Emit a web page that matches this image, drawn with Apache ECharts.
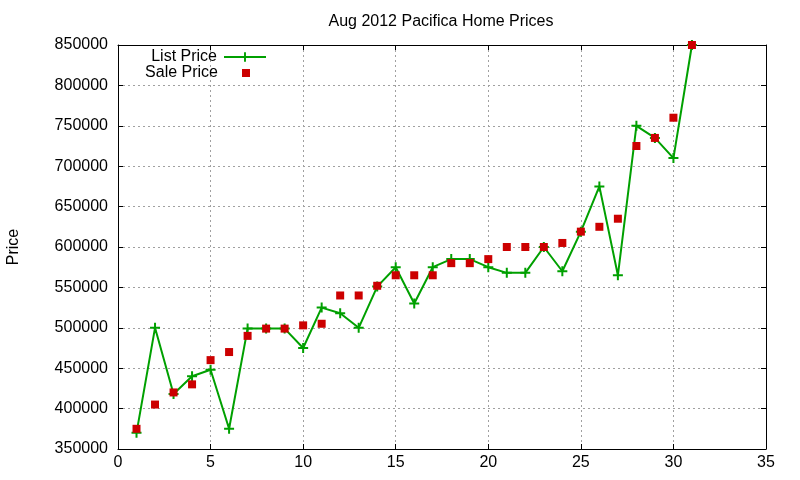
<!DOCTYPE html>
<html>
<head>
<meta charset="utf-8">
<script src="https://cdn.jsdelivr.net/npm/echarts@6/dist/echarts.min.js"></script>
<style>html,body{margin:0;padding:0;background:#fff;}#c{width:800px;height:480px;}</style>
</head>
<body>
<div id="c"></div>
<script>
const days = [1,2,3,4,5,6,7,8,9,10,11,12,13,14,15,16,17,18,19,20,21,22,23,24,25,26,27,28,29,30,31];
const listPrice = [370000,500000,418000,440000,448000,375000,499000,499000,499000,475000,525000,518000,500000,551000,575000,530000,575000,585000,585000,575000,568000,568000,600000,570000,619000,675000,565000,750000,735000,710000,850000];
const salePrice = [375000,405000,420000,430000,460000,470000,490000,499000,499000,503000,505000,540000,540000,552000,565000,565000,565000,580000,580000,585000,600000,600000,600000,605000,619000,625000,635000,725000,735000,760000,850000];
const xTicks = {min:0, max:35, interval:5};
const yTicks = {min:350000, max:850000, interval:50000};

const FONT = "'Liberation Sans', Arial, sans-serif";
const plus = 'path://M4,0H6V4H10V6H6V10H4V6H0V4H4Z';
const chart = echarts.init(document.getElementById('c'), null, {renderer:'canvas'});
const tick = {show:true, inside:true, length:5, lineStyle:{color:'#000', width:1}};
const axisLine = {show:true, onZero:false, lineStyle:{color:'#000', width:1}};
const split = {show:true, lineStyle:{color:'#a0a0a0', width:1, type:[2,3]}};
chart.setOption({
  animation:false,
  backgroundColor:'#fff',
  textStyle:{fontFamily:FONT},
  title:{text:'Aug 2012 Pacifica Home Prices', left:441, textAlign:'center', top:14, padding:0,
    textStyle:{fontFamily:FONT, fontSize:16, fontWeight:'normal', color:'#000'}},
  legend:[
    {data:['List Price'], orient:'vertical', align:'right', right:533, top:49, padding:0,
     itemWidth:42, itemHeight:12,
     textStyle:{fontFamily:FONT, fontSize:16, color:'#000', padding:[0,2,0,0]}},
    {data:['Sale Price'], orient:'vertical', align:'right', right:550, top:65, padding:0,
     itemWidth:8, itemHeight:8, icon:'rect',
     textStyle:{fontFamily:FONT, fontSize:16, color:'#000', padding:[0,19,0,0]}}
  ],
  grid:{left:118, right:34, top:45, bottom:31, containLabel:false, outerBoundsMode:'none'},
  xAxis:[
    {type:'value', min:xTicks.min, max:xTicks.max, interval:xTicks.interval, position:'bottom',
     axisLine:axisLine, axisTick:tick, splitLine:split,
     axisLabel:{color:'#000', fontSize:16, fontFamily:FONT, margin:6}},
    {type:'value', min:xTicks.min, max:xTicks.max, interval:xTicks.interval, position:'top',
     axisLine:axisLine, axisTick:tick, splitLine:{show:false}, axisLabel:{show:false}}
  ],
  yAxis:[
    {type:'value', min:yTicks.min, max:yTicks.max, interval:yTicks.interval, position:'left',
     name:'Price', nameLocation:'middle', nameRotate:90, nameGap:96,
     nameTextStyle:{color:'#000', fontSize:16, fontFamily:FONT},
     axisLine:axisLine, axisTick:tick, splitLine:split,
     axisLabel:{color:'#000', fontSize:16, fontFamily:FONT, margin:10, formatter:v=>String(v)}},
    {type:'value', min:yTicks.min, max:yTicks.max, interval:yTicks.interval, position:'right',
     axisLine:axisLine, axisTick:tick, splitLine:{show:false}, axisLabel:{show:false}}
  ],
  series:[
    {name:'List Price', type:'line', data:days.map((d,i)=>[d,listPrice[i]]),
     symbol:plus, symbolSize:10, showSymbol:true, clip:false,
     itemStyle:{color:'#00a000'}, lineStyle:{color:'#00a000', width:2}, z:2},
    {name:'Sale Price', type:'scatter', data:days.map((d,i)=>[d,salePrice[i]]),
     symbol:'rect', symbolSize:8, clip:false,
     itemStyle:{color:'#cc0000', opacity:1}, z:3}
  ]
});
</script>
</body>
</html>
